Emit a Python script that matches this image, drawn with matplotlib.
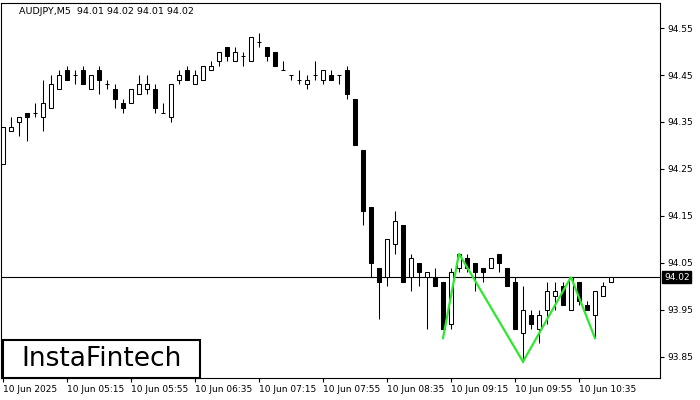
import matplotlib
matplotlib.use("Agg")
import matplotlib.pyplot as plt
import matplotlib.transforms as mtransforms
from matplotlib.patches import Rectangle

# AUDJPY M5 candles, 10 Jun 2025 from 04:35
opens = [94.26, 94.33, 94.35, 94.37, 94.37, 94.36, 94.38, 94.42, 94.46, 94.45,
         94.46, 94.42, 94.46, 94.43, 94.42, 94.39, 94.39, 94.41, 94.42, 94.42,
         94.37, 94.36, 94.44, 94.46, 94.43, 94.44, 94.46, 94.48, 94.51, 94.48,
         94.49, 94.48, 94.52, 94.51, 94.50, 94.46, 94.45, 94.44, 94.43, 94.45,
         94.44, 94.45, 94.45, 94.46, 94.40, 94.29, 94.17, 94.04, 94.02, 94.09,
         94.13, 94.02, 94.05, 94.02, 94.02, 94.01, 93.92, 94.04, 94.06, 94.05,
         94.04, 94.04, 94.07, 94.04, 94.01, 93.90, 93.94, 93.91, 93.95, 93.98,
         94.00, 93.95, 94.01, 93.96, 93.94, 93.98, 94.01]
highs = [94.34, 94.36, 94.36, 94.37, 94.39, 94.44, 94.45, 94.46, 94.47, 94.46,
         94.47, 94.45, 94.47, 94.44, 94.43, 94.40, 94.42, 94.45, 94.45, 94.43,
         94.39, 94.43, 94.46, 94.47, 94.46, 94.47, 94.48, 94.50, 94.51, 94.51,
         94.50, 94.53, 94.54, 94.51, 94.50, 94.48, 94.45, 94.46, 94.45, 94.48,
         94.46, 94.46, 94.45, 94.47, 94.40, 94.29, 94.17, 94.04, 94.10, 94.16,
         94.13, 94.07, 94.05, 94.03, 94.04, 94.01, 94.04, 94.07, 94.07, 94.05,
         94.04, 94.06, 94.07, 94.04, 94.02, 94.00, 93.95, 93.95, 94.01, 94.01,
         94.01, 94.02, 94.01, 93.97, 93.99, 94.01, 94.02]
lows = [94.26, 94.33, 94.32, 94.31, 94.36, 94.33, 94.38, 94.42, 94.44, 94.43,
        94.43, 94.42, 94.41, 94.42, 94.38, 94.37, 94.39, 94.41, 94.41, 94.37,
        94.37, 94.35, 94.43, 94.44, 94.43, 94.44, 94.46, 94.47, 94.48, 94.48,
        94.47, 94.48, 94.51, 94.48, 94.47, 94.46, 94.44, 94.43, 94.42, 94.44,
        94.43, 94.44, 94.43, 94.40, 94.30, 94.13, 94.02, 93.93, 94.00, 94.07,
        94.01, 93.99, 94.00, 93.91, 94.00, 93.91, 93.91, 94.03, 94.03, 93.99,
        94.01, 94.04, 94.03, 94.00, 93.91, 93.84, 93.91, 93.88, 93.92, 93.95,
        93.96, 93.95, 93.96, 93.95, 93.89, 93.98, 94.01]
closes = [94.34, 94.34, 94.36, 94.36, 94.37, 94.39, 94.43, 94.45, 94.44, 94.45,
          94.43, 94.45, 94.44, 94.43, 94.40, 94.38, 94.42, 94.43, 94.43, 94.38,
          94.37, 94.43, 94.45, 94.44, 94.45, 94.47, 94.47, 94.50, 94.49, 94.50,
          94.49, 94.53, 94.52, 94.49, 94.47, 94.46, 94.45, 94.44, 94.44, 94.45,
          94.46, 94.44, 94.45, 94.41, 94.30, 94.16, 94.05, 94.01, 94.10, 94.14,
          94.01, 94.06, 94.03, 94.03, 94.00, 93.91, 94.03, 94.07, 94.04, 94.03,
          94.03, 94.06, 94.05, 94.00, 93.91, 93.95, 93.92, 93.94, 93.99, 93.99,
          93.96, 94.02, 93.97, 93.95, 93.99, 94.00, 94.02]

time_labels = ["10 Jun 2025", "10 Jun 05:15", "10 Jun 05:55", "10 Jun 06:35",
               "10 Jun 07:15", "10 Jun 07:55", "10 Jun 08:35", "10 Jun 09:15",
               "10 Jun 09:55", "10 Jun 10:35"]
label_idx = [0, 8, 16, 24, 32, 40, 48, 56, 64, 72]
price_ticks = [94.55, 94.45, 94.35, 94.25, 94.15, 94.05, 93.95, 93.85]
last_price = 94.02

# triple bottom pattern drawn in green
pattern_idx = [55, 57, 65, 71, 74]
pattern_px = [93.89, 94.07, 93.84, 94.02, 93.89]

fig = plt.figure(figsize=(7, 4), dpi=100)
fig.patch.set_facecolor("white")
ax = fig.add_axes([1 / 700, 22 / 400, 659 / 700, 375 / 400])
ax.set_facecolor("white")

lw = 0.75
for i in range(len(opens)):
    o, h, l, c = opens[i], highs[i], lows[i], closes[i]
    ax.vlines(i, l, h, color="black", linewidth=lw, zorder=2)
    if c > o:
        ax.bar(i, c - o, bottom=o, width=0.55, facecolor="white",
               edgecolor="black", linewidth=lw, zorder=3)
    elif c < o:
        ax.bar(i, o - c, bottom=c, width=0.55, facecolor="black",
               edgecolor="black", linewidth=lw, zorder=3)
    else:
        ax.hlines(o, i - 0.3, i + 0.3, color="black", linewidth=lw, zorder=3)

ax.axhline(last_price, color="black", linewidth=0.8, zorder=1)
ax.plot(pattern_idx, pattern_px, color="#2ee82e", linewidth=1.6, zorder=4,
        solid_joinstyle="miter")

ax.set_xlim(-0.25, 82.125)
ax.set_ylim(93.8053, 94.6032)

ax.yaxis.tick_right()
ax.set_yticks(price_ticks)
ax.set_yticklabels([f"{p:.2f}" for p in price_ticks])
ax.tick_params(axis="y", direction="out", length=3, width=0.8, pad=2,
               labelsize=6.5, colors="black")

ax.set_xticks(label_idx)
ax.set_xticklabels(time_labels, ha="left")
ax.tick_params(axis="x", direction="out", length=3, width=0.8, pad=2,
               labelsize=6.5, colors="black")

for sp in ax.spines.values():
    sp.set_color("black")
    sp.set_linewidth(0.8)

# current price tag on the price scale
trans = mtransforms.blended_transform_factory(ax.transAxes, ax.transData)
ax.text(1.006, last_price, f"{last_price:.2f}", transform=trans, ha="left",
        va="center", fontsize=6.5, color="white", zorder=5,
        bbox=dict(boxstyle="square,pad=0.2", facecolor="black", edgecolor="black"))

fig.text(19 / 700, 1 - 12 / 400, "AUDJPY,M5  94.01 94.02 94.01 94.02",
         fontsize=6.8, va="center", ha="left", color="black")

# logo box
fig.patches.append(Rectangle((3 / 700, 22 / 400), 197 / 700, 38 / 400,
                             transform=fig.transFigure, facecolor="white",
                             edgecolor="black", linewidth=1.5, zorder=10))
fig.text(102 / 700, 1 - 359 / 400, "InstaFintech", fontsize=19, ha="center",
         va="center", color="black", fontweight="medium", zorder=11)

fig.savefig("out.png", dpi=100, facecolor="white")
